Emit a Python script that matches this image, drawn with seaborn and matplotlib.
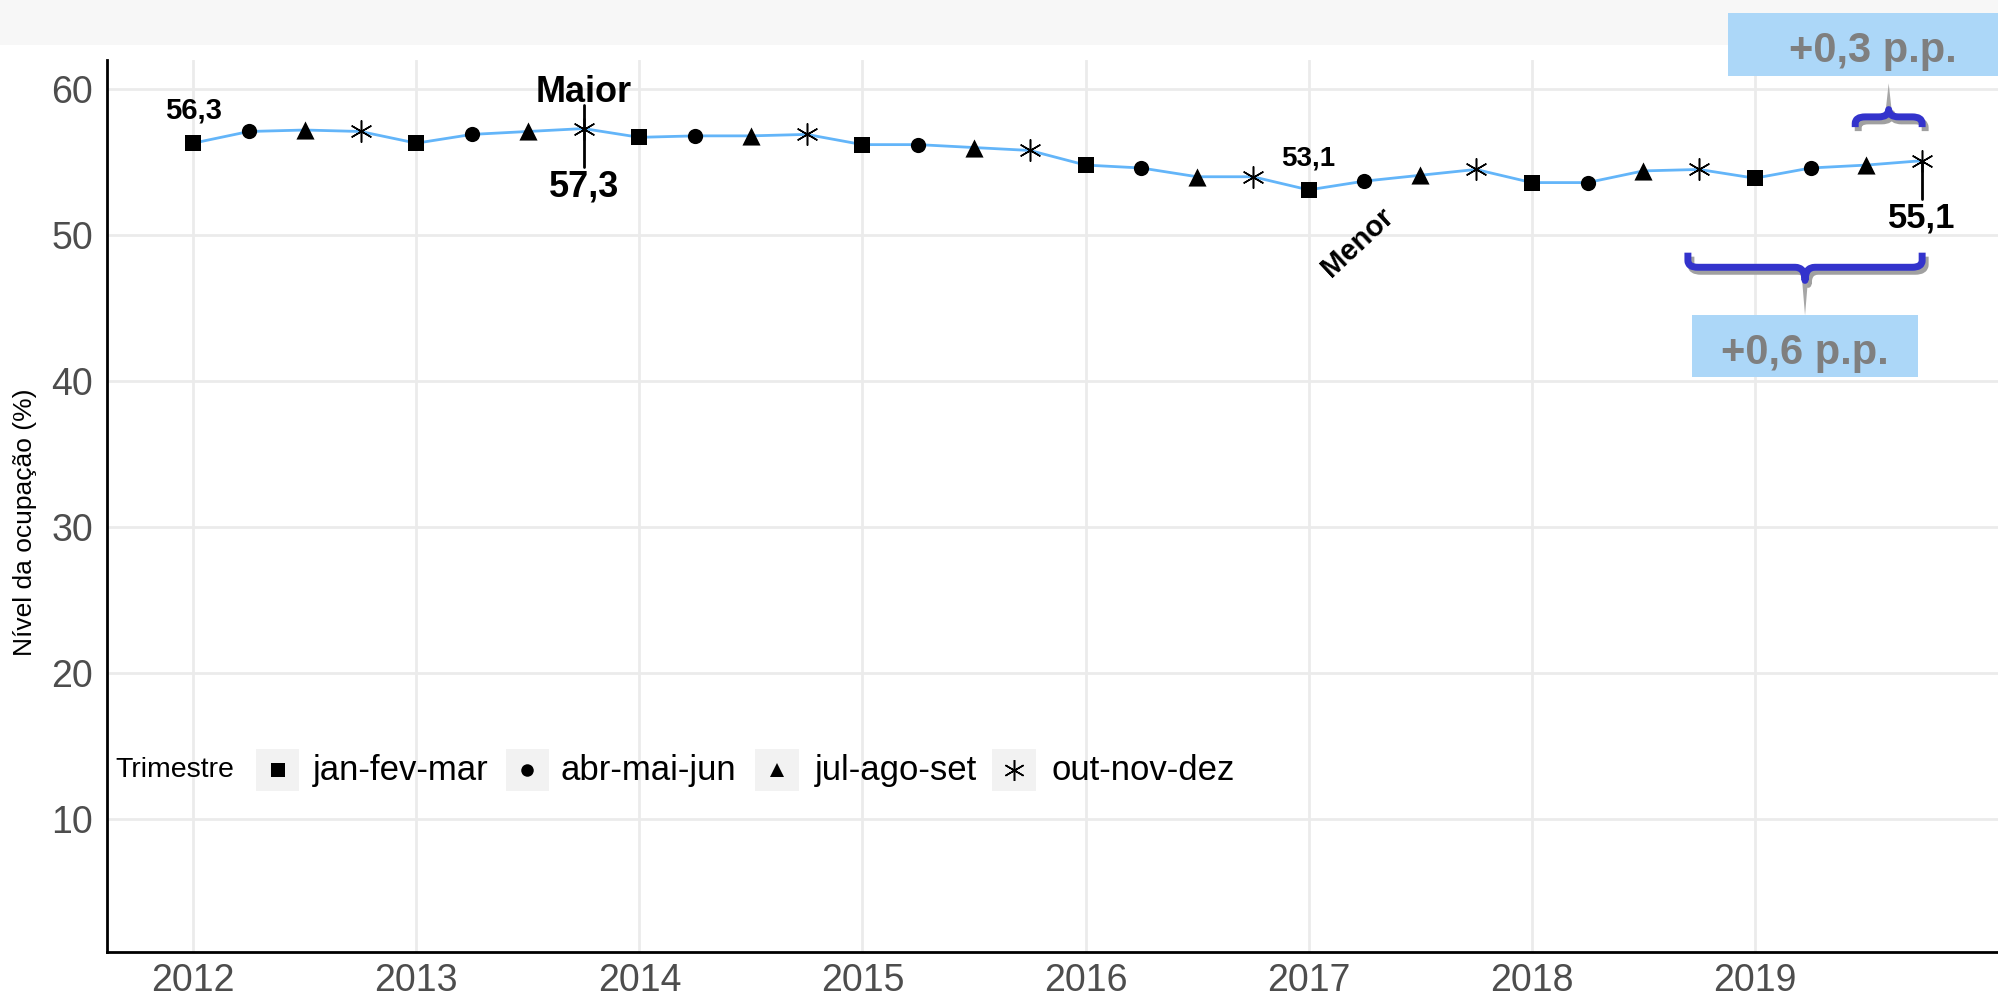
import numpy as np
import pandas as pd
import matplotlib
matplotlib.use("Agg")
import matplotlib.pyplot as plt
import matplotlib.transforms as mtransforms
from matplotlib.path import Path
from matplotlib.patches import PathPatch, Rectangle, Polygon
import seaborn as sns

sns.set_style("white")
plt.rcParams['font.family'] = ['Liberation Sans', 'DejaVu Sans']
plt.rcParams['text.color'] = 'black'
plt.rcParams['axes.labelcolor'] = 'black'

# --- data ---
anos = [2012, 2013, 2014, 2015, 2016, 2017, 2018, 2019]
trimestres = ["jan-fev-mar", "abr-mai-jun", "jul-ago-set", "out-nov-dez"]
nivel = [56.3, 57.1, 57.2, 57.1,
         56.3, 56.9, 57.1, 57.3,
         56.7, 56.8, 56.8, 56.9,
         56.2, 56.2, 56.0, 55.8,
         54.8, 54.6, 54.0, 54.0,
         53.1, 53.7, 54.1, 54.5,
         53.6, 53.6, 54.4, 54.5,
         53.9, 54.6, 54.8, 55.1]

df = pd.DataFrame({
    "ano": np.repeat(anos, 4),
    "trimestre": trimestres * len(anos),
    "nivel": nivel,
})
df["t"] = df["ano"] + np.tile([0, 0.25, 0.5, 0.75], len(anos))

marcadores = {"jan-fev-mar": "s", "abr-mai-jun": "o",
              "jul-ago-set": "^", "out-nov-dez": (6, 2, 0)}
tamanhos = {"jan-fev-mar": 135, "abr-mai-jun": 120,
            "jul-ago-set": 170, "out-nov-dez": 240}

fig = plt.figure(figsize=(19.98, 9.99), dpi=100)
fig.patches.append(Rectangle((0, 0.955), 1, 0.045, transform=fig.transFigure,
                             facecolor="#f7f7f7", edgecolor="none", zorder=-5))
ax = fig.add_axes([0.0536, 0.047, 0.9464, 0.893])

sns.lineplot(data=df, x="t", y="nivel", color="#63b5f9", linewidth=2, ax=ax, zorder=3)
for tri in trimestres:
    sub = df[df["trimestre"] == tri]
    if tri == "out-nov-dez":
        sns.scatterplot(data=sub, x="t", y="nivel", marker=marcadores[tri], s=tamanhos[tri],
                        color="black", linewidth=1.1, ax=ax, zorder=4, legend=False)
    else:
        sns.scatterplot(data=sub, x="t", y="nivel", marker=marcadores[tri], s=tamanhos[tri],
                        color="black", edgecolor="black", linewidth=0, ax=ax, zorder=4, legend=False)

ax.set_xlim(2011.614, 2020.09)
ax.set_ylim(0.9, 62.0)
ax.set_xticks(anos)
ax.set_yticks([10, 20, 30, 40, 50, 60])
ax.grid(True, color="#ebebeb", linewidth=2)
ax.set_axisbelow(True)
for s in ["top", "right"]:
    ax.spines[s].set_visible(False)
for s in ["left", "bottom"]:
    ax.spines[s].set_color("black")
    ax.spines[s].set_linewidth(2)
ax.tick_params(axis="both", labelsize=27, labelcolor="#4d4d4d", color="#333333",
               length=5, width=1.5)
ax.tick_params(axis="x", pad=3)
ax.tick_params(axis="y", pad=5)
ax.set_xlabel("")
ax.set_ylabel("Nível da ocupação (%)", fontsize=19, color="black")
ax.yaxis.set_label_coords(-0.037, 0.482)

# --- anotações ---
ax.text(2012, 58.55, "56,3", ha="center", va="center", fontsize=21, fontweight="bold")
ax.text(2013.75, 59.8, "Maior", ha="center", va="center", fontsize=26, fontweight="bold")
ax.plot([2013.75, 2013.75], [58.9, 54.7], color="black", lw=2, zorder=5)
ax.text(2013.75, 53.3, "57,3", ha="center", va="center", fontsize=26, fontweight="bold")
ax.text(2017.0, 55.27, "53,1", ha="center", va="center", fontsize=20, fontweight="bold")
ax.text(2017.22, 49.5, "Menor", ha="center", va="center", fontsize=21, fontweight="bold",
        rotation=43)
ax.plot([2019.75, 2019.75], [55.1, 52.5], color="black", lw=2, zorder=5)
ax.text(2019.75, 51.2, "55,1", ha="center", va="center", fontsize=25, fontweight="bold")


def chave(x0, x1, y_fim, y_meio, y_ponta, cor, trans, zorder):
    xm = (x0 + x1) / 2
    rx = 10 / 223
    sgn = 1 if y_fim > y_meio else -1
    ry = 0.45 * sgn
    verts = [(x0, y_fim), (x0, y_meio + ry), (x0, y_meio), (x0 + rx, y_meio),
             (xm - rx, y_meio), (xm, y_meio), (xm, y_ponta),
             (xm, y_meio), (xm + rx, y_meio), (x1 - rx, y_meio),
             (x1, y_meio), (x1, y_meio + ry), (x1, y_fim)]
    codes = [Path.MOVETO, Path.LINETO, Path.CURVE3, Path.CURVE3,
             Path.LINETO, Path.CURVE3, Path.CURVE3,
             Path.CURVE3, Path.CURVE3, Path.LINETO,
             Path.CURVE3, Path.CURVE3, Path.LINETO]
    ax.add_patch(PathPatch(Path(verts, codes), facecolor="none", edgecolor=cor, lw=5,
                           capstyle="butt", joinstyle="round", transform=trans,
                           zorder=zorder, clip_on=False))


sombra = ax.transData + mtransforms.ScaledTranslation(0.03, -0.04, fig.dpi_scale_trans)

# +0,6 p.p. (ano contra ano)
chave(2018.70, 2019.75, 48.8, 47.8, 46.9, "#a0a0a0", sombra, 6)
chave(2018.70, 2019.75, 48.8, 47.8, 46.9, "#3333cc", ax.transData, 7)
ax.add_patch(Polygon([(2019.225 - 0.013, 46.9), (2019.225 + 0.013, 46.9), (2019.225, 44.5)],
                     closed=True, facecolor="#a6a6a6", edgecolor="none", zorder=6))
ax.add_patch(Rectangle((2018.72, 40.3), 1.01, 4.2, facecolor="#acd7f8", edgecolor="none",
                       zorder=6))
ax.text(2019.225, 41.95, "+0,6 p.p.", ha="center", va="center", fontsize=30,
        fontweight="bold", color="#7f7f7f", zorder=8)

# +0,3 p.p. (trimestre anterior)
chave(2019.45, 2019.75, 57.4, 58.1, 58.6, "#a0a0a0", sombra, 6)
chave(2019.45, 2019.75, 57.4, 58.1, 58.6, "#3333cc", ax.transData, 7)
ax.add_patch(Polygon([(2019.6 - 0.013, 58.6), (2019.6 + 0.013, 58.6), (2019.6, 60.4)],
                     closed=True, facecolor="#a6a6a6", edgecolor="none", zorder=6,
                     clip_on=False))
ax.add_patch(Rectangle((2018.88, 60.9), 1.3, 4.3, facecolor="#acd7f8", edgecolor="none",
                       zorder=6, clip_on=False))
ax.text(2019.53, 62.6, "+0,3 p.p.", ha="center", va="center", fontsize=30,
        fontweight="bold", color="#7f7f7f", zorder=8, clip_on=False)

# --- legenda ---
ly = 0.204
ax.text(0.0042, ly, "Trimestre", transform=ax.transAxes, ha="left", va="center",
        fontsize=20.5, color="black")
chaves_x = [0.0902, 0.2221, 0.3543, 0.4796]
textos_x = [0.1089, 0.2396, 0.3744, 0.4997]
leg_tam = {"jan-fev-mar": 9.5, "abr-mai-jun": 9, "jul-ago-set": 10.5, "out-nov-dez": 15}
for tri, kx, tx in zip(trimestres, chaves_x, textos_x):
    ax.add_patch(Rectangle((kx - 0.0114, ly - 0.0235), 0.0228, 0.047, transform=ax.transAxes,
                           facecolor="#f2f2f2", edgecolor="none", zorder=2))
    if tri == "out-nov-dez":
        ax.plot([kx], [ly], marker=marcadores[tri], ms=leg_tam[tri], color="black", mew=1.1,
                transform=ax.transAxes, zorder=3, linestyle="none")
    else:
        ax.plot([kx], [ly], marker=marcadores[tri], ms=leg_tam[tri], color="black", mew=0,
                transform=ax.transAxes, zorder=3, linestyle="none")
    ax.text(tx, ly, tri, transform=ax.transAxes, ha="left", va="center", fontsize=25,
            color="black")

fig.savefig("out.png", dpi=100)
